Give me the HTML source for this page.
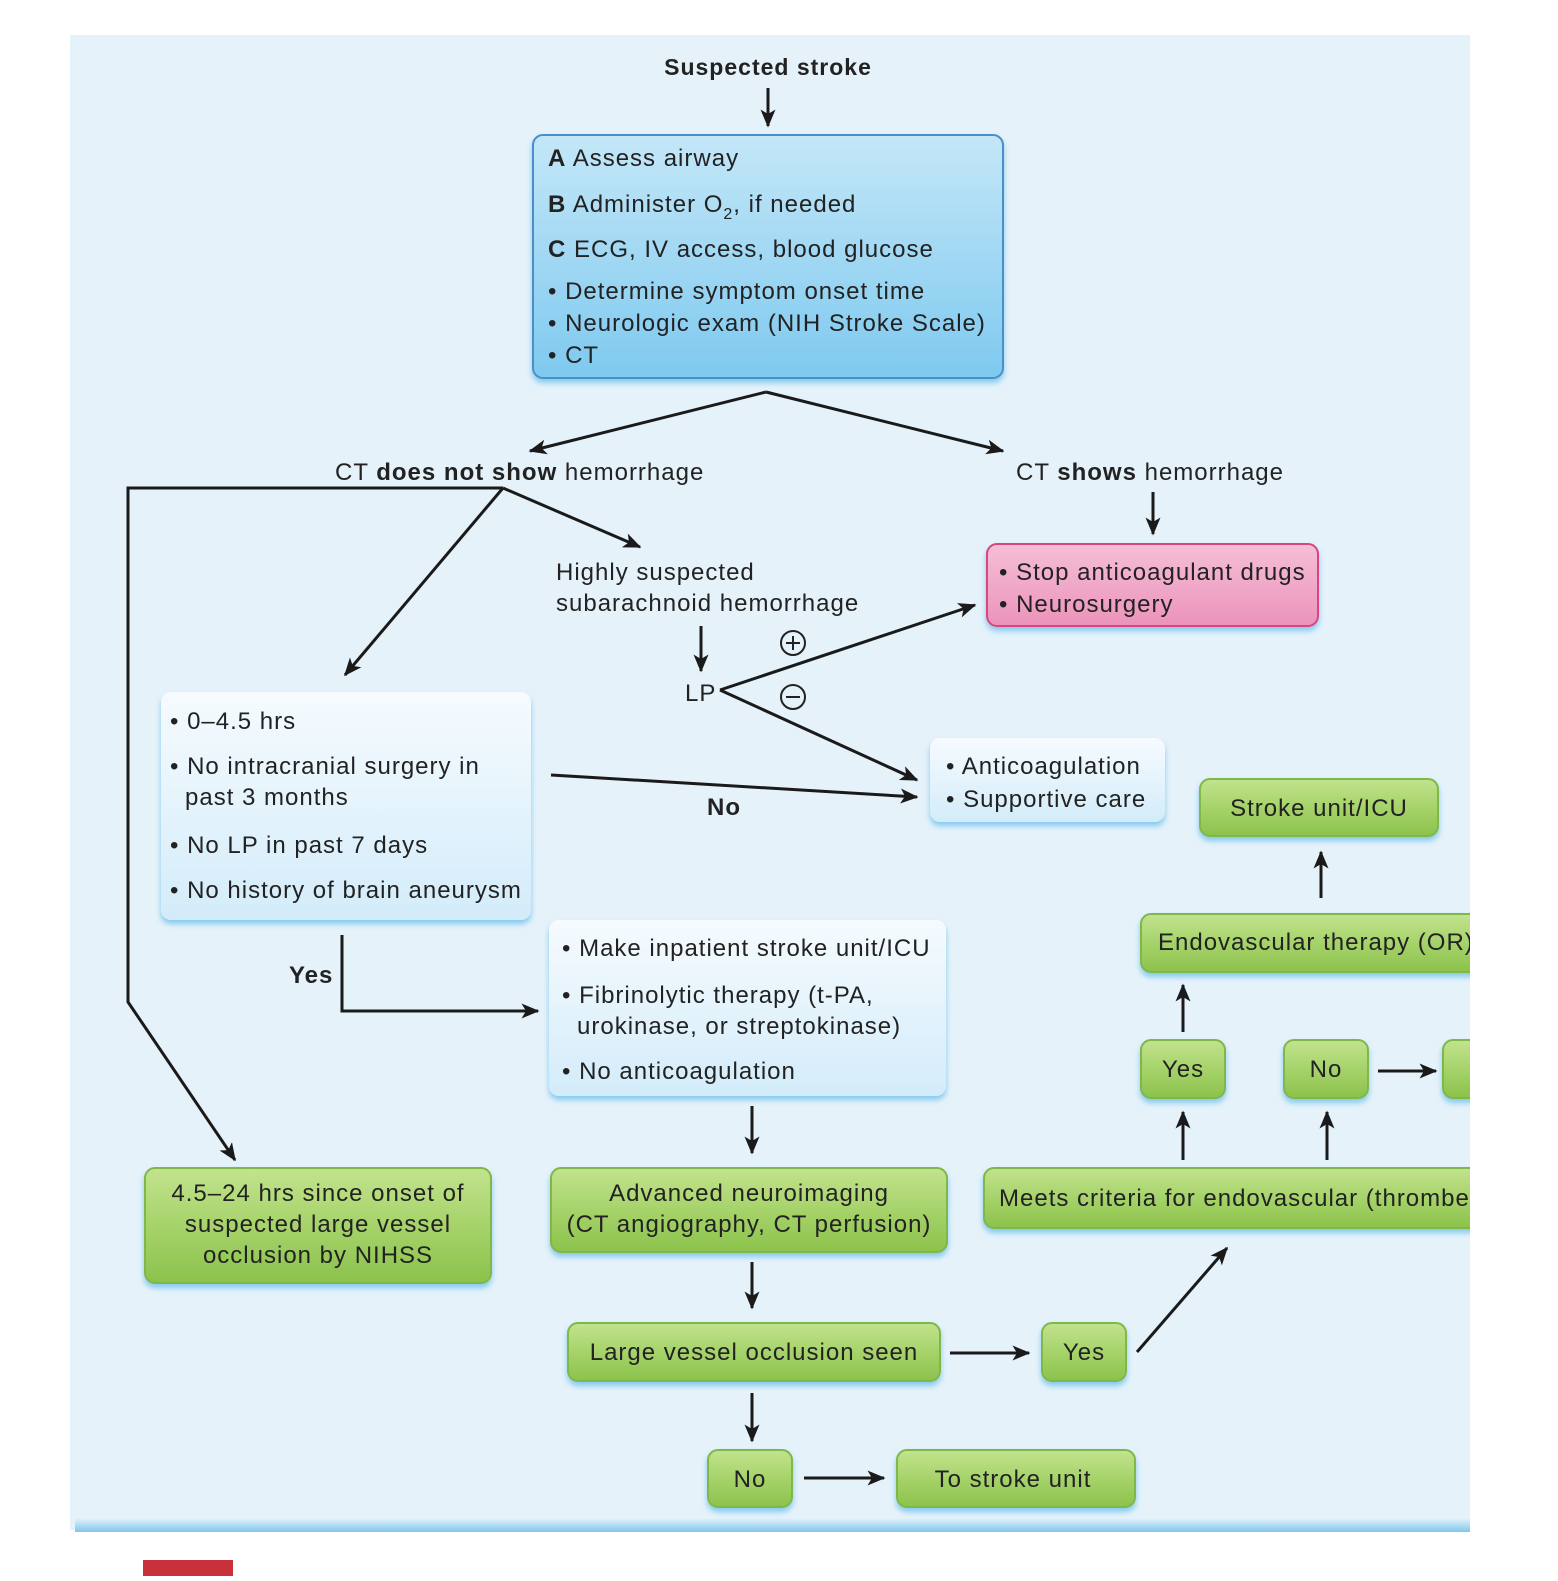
<!DOCTYPE html>
<html><head><meta charset="utf-8"><style>
html,body{margin:0;padding:0;background:#fff;}
body{width:1558px;height:1576px;position:relative;overflow:hidden;font-family:"Liberation Sans",sans-serif;}
svg text{font-family:"Liberation Sans",sans-serif;fill:#222;letter-spacing:1px;}
</style></head><body>
<svg width="1558" height="1576" viewBox="0 0 1558 1576" xmlns="http://www.w3.org/2000/svg">
<defs>
<linearGradient id="bl" x1="0" y1="0" x2="0" y2="1"><stop offset="0" stop-color="#c4e7f8"/><stop offset="1" stop-color="#7ec9ef"/></linearGradient>
<linearGradient id="pk" x1="0" y1="0" x2="0" y2="1"><stop offset="0" stop-color="#f5bfd6"/><stop offset="1" stop-color="#ec93bb"/></linearGradient>
<linearGradient id="wh" x1="0" y1="0" x2="0" y2="1"><stop offset="0" stop-color="#f6fbfe"/><stop offset="1" stop-color="#d3ecfa"/></linearGradient>
<linearGradient id="gr" x1="0" y1="0" x2="0" y2="1"><stop offset="0" stop-color="#c3e38e"/><stop offset="0.5" stop-color="#a6d36a"/><stop offset="1" stop-color="#8cc24c"/></linearGradient>
<linearGradient id="bot" x1="0" y1="0" x2="0" y2="1"><stop offset="0" stop-color="#e5f2fa"/><stop offset="1" stop-color="#7fc6ee"/></linearGradient>
<filter id="sh" x="-10%" y="-10%" width="120%" height="130%"><feDropShadow dx="0" dy="4" stdDeviation="3" flood-color="#5cb8ea" flood-opacity="0.7"/></filter>
<marker id="ah" viewBox="0 0 12 10" refX="11" refY="5" markerWidth="6" markerHeight="5" orient="auto" markerUnits="strokeWidth"><path d="M0,0 L12,5 L0,10 L3,5 z" fill="#1a1a1a"/></marker>
<clipPath id="cp"><rect x="0" y="0" width="1470" height="1576"/></clipPath>
</defs>
<rect x="70" y="35" width="1400" height="1495" fill="#e5f2fa"/>
<rect x="75" y="1518" width="1395" height="14" fill="url(#bot)"/>
<rect x="143" y="1560" width="90" height="16" fill="#c8303b"/>
<g clip-path="url(#cp)">
<g stroke="#1a1a1a" stroke-width="3" fill="none" marker-end="url(#ah)">
<line x1="768" y1="88" x2="768" y2="126"/>
<polyline points="766,392 530,451"/>
<polyline points="766,392 1003,451"/>
<line x1="1153" y1="492" x2="1153" y2="534"/>
<polyline points="503,488 128,488 128,1002 235,1160"/>
<line x1="503" y1="488" x2="345" y2="675"/>
<line x1="503" y1="488" x2="640" y2="547"/>
<line x1="701" y1="626" x2="701" y2="671"/>
<line x1="720" y1="690" x2="975" y2="605"/>
<line x1="720" y1="690" x2="917" y2="780"/>
<line x1="551" y1="775" x2="917" y2="797"/>
<polyline points="342,935 342,1011 538,1011"/>
<line x1="752" y1="1106" x2="752" y2="1153"/>
<line x1="752" y1="1262" x2="752" y2="1308"/>
<line x1="950" y1="1353" x2="1029" y2="1353"/>
<line x1="1137" y1="1352" x2="1227" y2="1248"/>
<line x1="752" y1="1393" x2="752" y2="1441"/>
<line x1="804" y1="1478" x2="884" y2="1478"/>
<line x1="1183" y1="1160" x2="1183" y2="1112"/>
<line x1="1327" y1="1160" x2="1327" y2="1112"/>
<line x1="1183" y1="1032" x2="1183" y2="985"/>
<line x1="1321" y1="898" x2="1321" y2="852"/>
<line x1="1378" y1="1071" x2="1436" y2="1071"/>
</g>
<g filter="url(#sh)">
<rect x="533" y="135" width="470" height="243" rx="10" fill="url(#bl)" stroke="#4a8fc8" stroke-width="2"/>
<rect x="987" y="544" width="331" height="82" rx="10" fill="url(#pk)" stroke="#d8457f" stroke-width="2"/>
<rect x="161" y="692" width="370" height="228" rx="10" fill="url(#wh)"/>
<rect x="549" y="920" width="397" height="176" rx="10" fill="url(#wh)"/>
<rect x="930" y="738" width="235" height="84" rx="10" fill="url(#wh)"/>
<g fill="url(#gr)" stroke="#7fb84a" stroke-width="2">
<rect x="1200" y="779" width="238" height="57" rx="10"/>
<rect x="1141" y="914" width="360" height="58" rx="10"/>
<rect x="1141" y="1040" width="84" height="58" rx="10"/>
<rect x="1284" y="1040" width="84" height="58" rx="10"/>
<rect x="1443" y="1040" width="84" height="58" rx="10"/>
<rect x="984" y="1168" width="540" height="60" rx="10"/>
<rect x="145" y="1168" width="346" height="115" rx="10"/>
<rect x="551" y="1168" width="396" height="84" rx="10"/>
<rect x="568" y="1323" width="372" height="58" rx="10"/>
<rect x="1042" y="1323" width="84" height="58" rx="10"/>
<rect x="708" y="1450" width="84" height="57" rx="10"/>
<rect x="897" y="1450" width="238" height="57" rx="10"/>
</g>
</g>
<g font-size="24">
<text x="768" y="75" text-anchor="middle" font-weight="bold" font-size="23">Suspected stroke</text>
<text x="548" y="166"><tspan font-weight="bold">A</tspan> Assess airway</text>
<text x="548" y="212"><tspan font-weight="bold">B</tspan> Administer O<tspan font-size="16" dy="7">2</tspan><tspan dy="-7">, if needed</tspan></text>
<text x="548" y="257"><tspan font-weight="bold">C</tspan> ECG, IV access, blood glucose</text>
<text x="548" y="299">• Determine symptom onset time</text>
<text x="548" y="331">• Neurologic exam (NIH Stroke Scale)</text>
<text x="548" y="363">• CT</text>
<text x="335" y="480">CT <tspan font-weight="bold">does not show</tspan> hemorrhage</text>
<text x="1016" y="480">CT <tspan font-weight="bold">shows</tspan> hemorrhage</text>
<text x="556" y="580">Highly suspected</text>
<text x="556" y="611">subarachnoid hemorrhage</text>
<text x="999" y="580">• Stop anticoagulant drugs</text>
<text x="999" y="612">• Neurosurgery</text>
<text x="685" y="701">LP</text>
<text x="170" y="729">• 0–4.5 hrs</text>
<text x="170" y="774">• No intracranial surgery in</text>
<text x="185" y="805">past 3 months</text>
<text x="170" y="853">• No LP in past 7 days</text>
<text x="170" y="898">• No history of brain aneurysm</text>
<text x="946" y="774">• Anticoagulation</text>
<text x="946" y="807">• Supportive care</text>
<text x="707" y="815" font-weight="bold">No</text>
<text x="289" y="983" font-weight="bold">Yes</text>
<text x="562" y="956">• Make inpatient stroke unit/ICU</text>
<text x="562" y="1003">• Fibrinolytic therapy (t-PA,</text>
<text x="577" y="1034">urokinase, or streptokinase)</text>
<text x="562" y="1079">• No anticoagulation</text>
<text x="1319" y="816" text-anchor="middle">Stroke unit/ICU</text>
<text x="1158" y="950">Endovascular therapy (OR)</text>
<text x="1183" y="1077" text-anchor="middle">Yes</text>
<text x="1326" y="1077" text-anchor="middle">No</text>
<text x="999" y="1206">Meets criteria for endovascular (thrombectomy)</text>
<text x="318" y="1201" text-anchor="middle">4.5–24 hrs since onset of</text>
<text x="318" y="1232" text-anchor="middle">suspected large vessel</text>
<text x="318" y="1263" text-anchor="middle">occlusion by NIHSS</text>
<text x="749" y="1201" text-anchor="middle">Advanced neuroimaging</text>
<text x="749" y="1232" text-anchor="middle">(CT angiography, CT perfusion)</text>
<text x="754" y="1360" text-anchor="middle">Large vessel occlusion seen</text>
<text x="1084" y="1360" text-anchor="middle">Yes</text>
<text x="750" y="1487" text-anchor="middle">No</text>
<text x="1013" y="1487" text-anchor="middle">To stroke unit</text>
</g>
<g stroke="#222" stroke-width="2" fill="none">
<circle cx="793" cy="643" r="12"/><line x1="786" y1="643" x2="800" y2="643"/><line x1="793" y1="636" x2="793" y2="650"/>
<circle cx="793" cy="697" r="12"/><line x1="786" y1="697" x2="800" y2="697"/>
</g>
</g>
</svg>
</body></html>
